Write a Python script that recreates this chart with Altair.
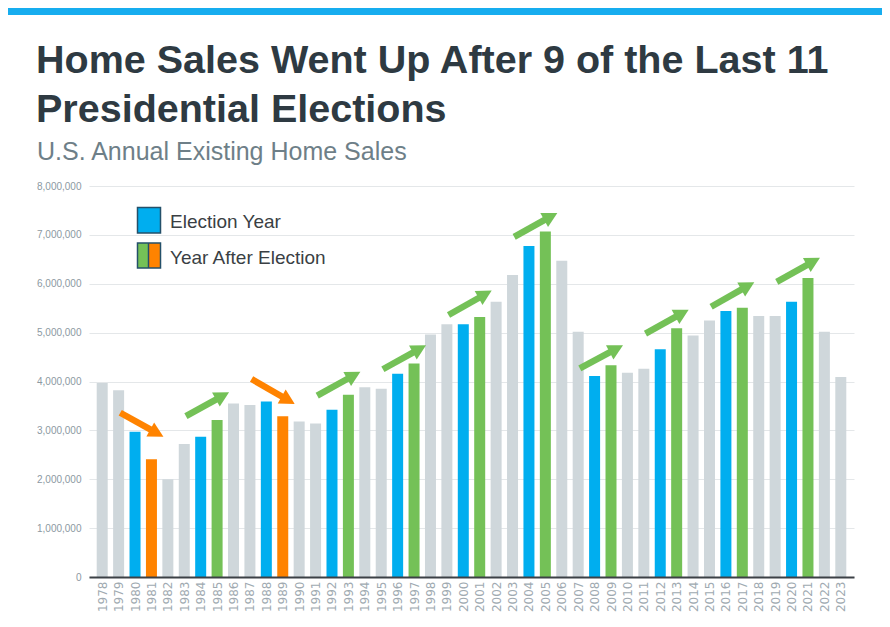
import math
import altair as alt
import pandas as pd

# ---------------- data ----------------
years = list(range(1978, 2024))
sales = [3970000, 3820000, 2970000, 2410000, 2000000, 2720000, 2870000, 3210000, 3550000, 3520000,
         3590000, 3290000, 3180000, 3140000, 3420000, 3730000, 3880000, 3850000, 4160000, 4370000,
         4960000, 5170000, 5170000, 5320000, 5630000, 6180000, 6770000, 7070000, 6470000, 5020000,
         4110000, 4330000, 4180000, 4260000, 4660000, 5090000, 4940000, 5250000, 5440000, 5510000,
         5340000, 5340000, 5630000, 6120000, 5020000, 4090000]

election_years = [1980, 1984, 1988, 1992, 1996, 2000, 2004, 2008, 2012, 2016, 2020]
down_years = [1981, 1989]  # years after an election when sales fell

arrow_from = [3360000, 3290000, 4050000, 3710000, 4250000, 5360000, 6960000, 4270000, 4980000, 5530000, 6040000]
arrow_to = [2870000, 3780000, 3540000, 4200000, 4740000, 5860000, 7450000, 4740000, 5470000, 6030000, 6530000]

legend_labels = ["Election Year", "Year After Election"]
title_lines = ["Home Sales Went Up After 9 of the Last 11", "Presidential Elections"]
subtitle = "U.S. Annual Existing Home Sales"

# ---------------- styles ----------------
W, H = 765, 391
FONT = "Liberation Sans"
GRAY, BLUE, GREEN, ORANGE = "#CFD7DB", "#00AEEF", "#74C157", "#FF8300"
BORDER = "#24506A"

kind = []
for y in years:
    if y in election_years:
        kind.append("election")
    elif (y - 1) in election_years:
        kind.append("down" if y in down_years else "up")
    else:
        kind.append("other")

bars = pd.DataFrame({"year": years, "sales": sales, "kind": kind})

x_dom = [years[0] - 0.5, years[-1] + 0.5]
y_dom = [0, 8000000]
ppy = W / (x_dom[1] - x_dom[0])
ppv = H / (y_dom[1] - y_dom[0])

rows = []
for yr, v0, v1 in zip(election_years, arrow_from, arrow_to):
    x0, x1 = yr - 0.9, yr + 1.73
    dxp, dyp = (x1 - x0) * ppy, (v1 - v0) * ppv
    L = math.hypot(dxp, dyp)
    f = 1 - 10 / L
    rows.append({
        "x0": x0, "x1": x1, "v0": v0, "v1": v1,
        "xs": x0 + (x1 - x0) * f, "vs": v0 + (v1 - v0) * f,
        "ang": math.degrees(math.atan2(-dyp, dxp)) % 360,
        "kind": "down" if v1 < v0 else "up",
    })
arrows = pd.DataFrame(rows)

xscale = alt.Scale(domain=x_dom, nice=False, zero=False)
yscale = alt.Scale(domain=y_dom, nice=False)
cscale = alt.Scale(domain=["other", "election", "up", "down"], range=[GRAY, BLUE, GREEN, ORANGE])

x_axis = alt.Axis(
    values=years, format="d", labelAngle=270, title=None, grid=False, ticks=False,
    domainColor="#3C4146", domainWidth=2, labelColor="#A0AAB1", labelFontSize=12,
    labelFont="DejaVu Sans", labelPadding=4, labelOverlap=False, labelFlush=False, zindex=1)
y_axis = alt.Axis(
    values=list(range(0, 8000001, 1000000)), format=",d", title=None, domain=False,
    ticks=False, gridColor="#E4E7E9", gridWidth=1, labelColor="#8C99A2", labelFontSize=10,
    labelFont=FONT, labelPadding=8)

bar_layer = alt.Chart(bars).mark_bar(size=11).encode(
    x=alt.X("year:Q", scale=xscale, axis=x_axis),
    y=alt.Y("sales:Q", scale=yscale, axis=y_axis),
    color=alt.Color("kind:N", scale=cscale, legend=None),
)

shaft = alt.Chart(arrows).mark_rule(strokeWidth=6.5, strokeCap="butt").encode(
    x=alt.X("x0:Q", scale=xscale, axis=x_axis),
    x2="xs:Q",
    y=alt.Y("v0:Q", scale=yscale, axis=y_axis),
    y2="vs:Q",
    color=alt.Color("kind:N", scale=cscale, legend=None),
)

head = alt.Chart(arrows).mark_point(
    shape="M0,0L-2,-1.07L-2,1.07Z", filled=True, size=225, opacity=1, strokeWidth=0
).encode(
    x=alt.X("x1:Q", scale=xscale, axis=x_axis),
    y=alt.Y("v1:Q", scale=yscale, axis=y_axis),
    angle=alt.Angle("ang:Q", scale=None),
    color=alt.Color("kind:N", scale=cscale, legend=None),
)

one = pd.DataFrame({"d": [0]})
base = alt.Chart(one)

top_bar = base.mark_rect(color="#17ADEF").encode(
    x=alt.value(-81), x2=alt.value(W + 28), y=alt.value(-178), y2=alt.value(-171))

leg_blue = base.mark_rect(fill=BLUE, stroke=BORDER, strokeWidth=1.5).encode(
    x=alt.value(48.5), x2=alt.value(71.5), y=alt.value(21.5), y2=alt.value(47))
leg_green = base.mark_rect(fill=GREEN).encode(
    x=alt.value(48.5), x2=alt.value(59.5), y=alt.value(57), y2=alt.value(82))
leg_orange = base.mark_rect(fill=ORANGE).encode(
    x=alt.value(59.5), x2=alt.value(71.5), y=alt.value(57), y2=alt.value(82))
leg_box = base.mark_rect(fillOpacity=0, stroke=BORDER, strokeWidth=1.5).encode(
    x=alt.value(48.5), x2=alt.value(71.5), y=alt.value(57), y2=alt.value(82))
leg_div = base.mark_rule(stroke=BORDER, strokeWidth=1.5).encode(
    x=alt.value(59.5), y=alt.value(57), y2=alt.value(82))

leg_t1 = base.mark_text(align="left", baseline="alphabetic", font=FONT, fontSize=19, color="#3A3F44").encode(
    x=alt.value(81), y=alt.value(42), text=alt.value(legend_labels[0]))
leg_t2 = base.mark_text(align="left", baseline="alphabetic", font=FONT, fontSize=19, color="#3A3F44").encode(
    x=alt.value(81), y=alt.value(78), text=alt.value(legend_labels[1]))

t1 = base.mark_text(align="left", baseline="alphabetic", font=FONT, fontSize=39.5, fontWeight="bold",
                    color="#2E3A42").encode(x=alt.value(-53), y=alt.value(-113.5), text=alt.value(title_lines[0]))
t2 = base.mark_text(align="left", baseline="alphabetic", font=FONT, fontSize=39.5, fontWeight="bold",
                    color="#2E3A42").encode(x=alt.value(-53), y=alt.value(-64), text=alt.value(title_lines[1]))
st = base.mark_text(align="left", baseline="alphabetic", font=FONT, fontSize=25,
                    color="#6E7F88").encode(x=alt.value(-52), y=alt.value(-26), text=alt.value(subtitle))

chart = alt.layer(
    bar_layer, shaft, head, top_bar,
    leg_blue, leg_green, leg_orange, leg_box, leg_div, leg_t1, leg_t2,
    t1, t2, st,
).properties(
    width=W, height=H,
    background="white",
    padding={"left": 81, "top": 178, "right": 28, "bottom": 38},
    autosize=alt.AutoSizeParams(type="none"),
).configure_view(strokeWidth=0, stroke="transparent")

chart.save("out.html", embed_options={"renderer": "svg", "actions": False})
